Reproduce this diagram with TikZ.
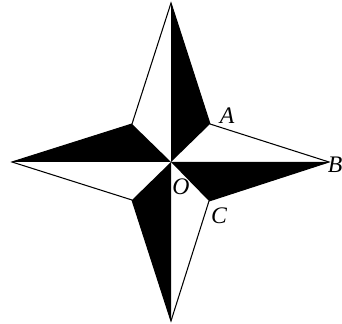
\documentclass[tikz,border=0pt]{standalone}
\usepackage{fontspec}
\setmainfont{Liberation Serif}
\usepackage{tikz}
\tikzset{
    starblack/.style={fill=black},
    staredge/.style={draw=black,line width=0.6pt,line join=miter},
    pointlabel/.style={font=\fontsize{13.5}{16}\selectfont\itshape,inner sep=0pt}
}
\begin{document}
\begin{tikzpicture}[x=0.02cm,y=-0.02cm]
    \useasboundingbox (0,0) rectangle (342,324);
    % centre, tips and inner corners
    \coordinate (O) at (171,162);
    \coordinate (tipN) at (171,3);
    \coordinate (B) at (329,162);
    \coordinate (tipS) at (171,321);
    \coordinate (tipW) at (12,162);
    \coordinate (A) at (210,124);
    \coordinate (C) at (209,201);
    \coordinate (innerNW) at (132,124);
    \coordinate (innerSW) at (132,200);
    \fill[starblack] (O) -- (tipN) -- (A) -- cycle;
    \fill[starblack] (O) -- (B) -- (C) -- cycle;
    \fill[starblack] (O) -- (tipS) -- (innerSW) -- cycle;
    \fill[starblack] (O) -- (tipW) -- (innerNW) -- cycle;
    \draw[staredge] (tipN) -- (A) -- (B) -- (C) -- (tipS) -- (innerSW) -- (tipW) -- (innerNW) -- cycle;
    \node[pointlabel] (labA) at (227,116) {A};
    \node[pointlabel,anchor=west] (labB) at (327.5,165) {B};
    \node[pointlabel] (labO) at (181,187) {O};
    \node[pointlabel] (labC) at (219,216) {C};
\end{tikzpicture}
\end{document}
